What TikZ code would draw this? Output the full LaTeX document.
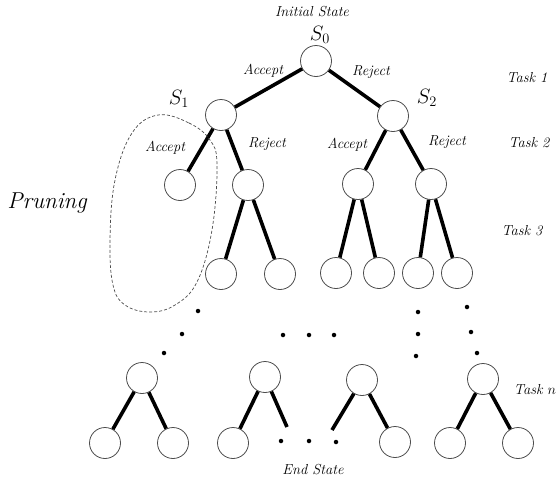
\documentclass[tikz,border=0pt]{standalone}
\begin{document}
\begin{tikzpicture}[x=1pt,y=-1pt,
  st/.style={circle,draw=black!70,line width=0.8pt,minimum size=31pt,inner sep=0pt,fill=white},
  br/.style={line width=3.6pt},
  lbl/.style={font=\fontsize{14.5}{17}\selectfont\itshape,inner sep=0pt},
  big/.style={font=\fontsize{21}{24}\selectfont,inner sep=0pt},
  dotn/.style={circle,fill=black,minimum size=4.5pt,inner sep=0pt}]
\useasboundingbox (0,0) rectangle (556,480);
% nodes
\node[st] (s0) at (316,61) {};
\node[st] (s1) at (221,115) {};
\node[st] (s2) at (393,116) {};
\node[st] (a) at (180,185) {};
\node[st] (b) at (248,185) {};
\node[st] (c) at (358,184) {};
\node[st] (d) at (431,184) {};
\node[st] (b1) at (221,274) {};
\node[st] (b2) at (280,274) {};
\node[st] (c1) at (336,273) {};
\node[st] (c2) at (379,273) {};
\node[st] (d1) at (418,273) {};
\node[st] (d2) at (457,273) {};
\node[st] (n1) at (142,378) {};
\node[st] (n2) at (265,377) {};
\node[st] (n3) at (362,380) {};
\node[st] (n4) at (483,379) {};
\node[st] (l1) at (105,443) {};
\node[st] (l2) at (173,443) {};
\node[st] (l3) at (233,443) {};
\node[st] (l4) at (395,442) {};
\node[st] (l5) at (450,443) {};
\node[st] (l6) at (518,443) {};
\coordinate (e1) at (287,427);
\coordinate (e2) at (332,430);
% branches
\draw[br] (s0) -- (s1);
\draw[br] (s0) -- (s2);
\draw[br] (s1) -- (a);
\draw[br] (s1) -- (b);
\draw[br] (s2) -- (c);
\draw[br] (s2) -- (d);
\draw[br] (b) -- (b1);
\draw[br] (b) -- (b2);
\draw[br] (c) -- (c1);
\draw[br] (c) -- (c2);
\draw[br] (d) -- (d1);
\draw[br] (d) -- (d2);
\draw[br] (n1) -- (l1);
\draw[br] (n1) -- (l2);
\draw[br] (n2) -- (l3);
\draw[br] (n2) -- (e1);
\draw[br] (n3) -- (e2);
\draw[br] (n3) -- (l4);
\draw[br] (n4) -- (l5);
\draw[br] (n4) -- (l6);
% dots
\foreach \i/\p in {p1/{(198,311)},p2/{(182,334)},p3/{(164,353)},
  q1/{(283,335)},q2/{(309,335)},q3/{(334,335)},
  r1/{(418,312)},r2/{(418,334)},r3/{(416,356)},
  t1/{(467,307)},t2/{(471,332)},t3/{(477,353)},
  u1/{(281,441)},u2/{(309,441)},u3/{(336,442)}}
  \node[dotn] (\i) at \p {};
% pruning outline
\draw[black!70,line width=0.7pt,dash pattern=on 3pt off 2pt]
  plot[smooth cycle,tension=0.65] coordinates {(158,115) (189,123) (210,140) (217,165) (212,230) (197,282) (175,305) (150,312) (125,305) (113,285) (110,240) (115,180) (132,133)};
% labels
\node[lbl] (init) at (312,12) {Initial State};
\node[big] (ls0) at (320,35) {$S_0$};
\node[big] (ls1) at (179,99) {$S_1$};
\node[big] (ls2) at (427,98) {$S_2$};
\node[lbl] (acc0) at (263,71) {Accept};
\node[lbl] (rej0) at (371,72) {Reject};
\node[lbl] (acc1) at (165,148) {Accept};
\node[lbl] (rej1) at (267,144) {Reject};
\node[lbl] (acc2) at (347,145) {Accept};
\node[lbl] (rej2) at (447,142) {Reject};
\node[lbl] (t1l) at (527,78) {Task 1};
\node[lbl] (t2l) at (529,143) {Task 2};
\node[lbl] (t3l) at (522,231) {Task 3};
\node[lbl] (tnl) at (535,390) {Task $n$};
\node[lbl] (endl) at (313,470) {End State};
\node[inner sep=0pt,font=\fontsize{23}{27}\selectfont\itshape] (prun) at (47,203) {Pruning};
\end{tikzpicture}
\end{document}
